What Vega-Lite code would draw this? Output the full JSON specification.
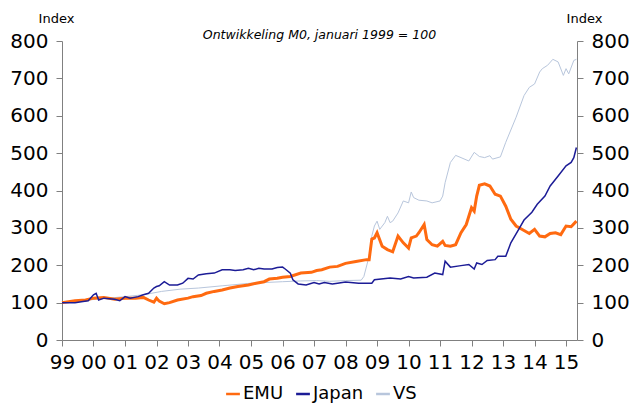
{
"$schema":"https://vega.github.io/schema/vega-lite/v6.json",
"width":515,"height":299,"autosize":"none",
"padding":{"left":62,"top":41,"right":55,"bottom":63},
"config":{"view":{"stroke":null},"font":"DejaVu Sans"},
"title":{"text":"Ontwikkeling M0, januari 1999 = 100","fontStyle":"italic","fontWeight":"normal","fontSize":12.5,"color":"#000000","anchor":"middle","offset":-29},
"datasets":{"emu":[
{"s":"EMU","d":"1999-01-01","v":100},{"s":"EMU","d":"1999-06-01","v":105},{"s":"EMU","d":"1999-10-01","v":107},{"s":"EMU","d":"2000-01-01","v":112},{"s":"EMU","d":"2000-05-01","v":114},{"s":"EMU","d":"2000-09-01","v":109},{"s":"EMU","d":"2001-01-01","v":112},{"s":"EMU","d":"2001-05-01","v":112},{"s":"EMU","d":"2001-08-01","v":114},{"s":"EMU","d":"2001-10-01","v":107},{"s":"EMU","d":"2001-12-01","v":101},{"s":"EMU","d":"2002-01-01","v":112},{"s":"EMU","d":"2002-02-01","v":104},{"s":"EMU","d":"2002-04-01","v":97},{"s":"EMU","d":"2002-06-01","v":100},{"s":"EMU","d":"2002-09-01","v":107},{"s":"EMU","d":"2003-01-01","v":112},{"s":"EMU","d":"2003-03-01","v":116},{"s":"EMU","d":"2003-06-01","v":119},{"s":"EMU","d":"2003-08-01","v":125},{"s":"EMU","d":"2003-11-01","v":130},{"s":"EMU","d":"2004-02-01","v":134},{"s":"EMU","d":"2004-05-01","v":139},{"s":"EMU","d":"2004-08-01","v":143},{"s":"EMU","d":"2004-12-01","v":147},{"s":"EMU","d":"2005-03-01","v":152},{"s":"EMU","d":"2005-06-01","v":156},{"s":"EMU","d":"2005-08-01","v":163},{"s":"EMU","d":"2005-11-01","v":165},{"s":"EMU","d":"2006-01-01","v":168},{"s":"EMU","d":"2006-04-01","v":170},{"s":"EMU","d":"2006-08-01","v":179},{"s":"EMU","d":"2006-12-01","v":181},{"s":"EMU","d":"2007-02-01","v":186},{"s":"EMU","d":"2007-04-01","v":188},{"s":"EMU","d":"2007-07-01","v":195},{"s":"EMU","d":"2007-10-01","v":197},{"s":"EMU","d":"2008-01-01","v":205},{"s":"EMU","d":"2008-05-01","v":210},{"s":"EMU","d":"2008-09-01","v":215},{"s":"EMU","d":"2008-10-01","v":215},{"s":"EMU","d":"2008-11-01","v":270},{"s":"EMU","d":"2008-12-01","v":273},{"s":"EMU","d":"2009-01-01","v":287},{"s":"EMU","d":"2009-03-01","v":251},{"s":"EMU","d":"2009-05-01","v":242},{"s":"EMU","d":"2009-07-01","v":236},{"s":"EMU","d":"2009-09-01","v":278},{"s":"EMU","d":"2009-11-01","v":260},{"s":"EMU","d":"2010-01-01","v":246},{"s":"EMU","d":"2010-02-01","v":273},{"s":"EMU","d":"2010-04-01","v":278},{"s":"EMU","d":"2010-05-01","v":287},{"s":"EMU","d":"2010-07-01","v":309},{"s":"EMU","d":"2010-08-01","v":269},{"s":"EMU","d":"2010-10-01","v":255},{"s":"EMU","d":"2010-12-01","v":251},{"s":"EMU","d":"2011-02-01","v":264},{"s":"EMU","d":"2011-03-01","v":253},{"s":"EMU","d":"2011-05-01","v":251},{"s":"EMU","d":"2011-07-01","v":255},{"s":"EMU","d":"2011-09-01","v":287},{"s":"EMU","d":"2011-11-01","v":309},{"s":"EMU","d":"2012-01-01","v":354},{"s":"EMU","d":"2012-02-01","v":345},{"s":"EMU","d":"2012-03-01","v":385},{"s":"EMU","d":"2012-04-01","v":414},{"s":"EMU","d":"2012-06-01","v":418},{"s":"EMU","d":"2012-08-01","v":412},{"s":"EMU","d":"2012-10-01","v":390},{"s":"EMU","d":"2012-12-01","v":385},{"s":"EMU","d":"2013-02-01","v":358},{"s":"EMU","d":"2013-04-01","v":323},{"s":"EMU","d":"2013-06-01","v":305},{"s":"EMU","d":"2013-08-01","v":297},{"s":"EMU","d":"2013-11-01","v":285},{"s":"EMU","d":"2014-01-01","v":296},{"s":"EMU","d":"2014-03-01","v":278},{"s":"EMU","d":"2014-05-01","v":276},{"s":"EMU","d":"2014-07-01","v":285},{"s":"EMU","d":"2014-09-01","v":287},{"s":"EMU","d":"2014-11-01","v":282},{"s":"EMU","d":"2015-01-01","v":305},{"s":"EMU","d":"2015-03-01","v":303},{"s":"EMU","d":"2015-05-01","v":318}],
"japan":[
{"s":"Japan","d":"1999-01-01","v":100},{"s":"Japan","d":"1999-06-01","v":100},{"s":"Japan","d":"1999-09-01","v":103},{"s":"Japan","d":"1999-11-01","v":105},{"s":"Japan","d":"2000-01-01","v":121},{"s":"Japan","d":"2000-02-01","v":125},{"s":"Japan","d":"2000-03-01","v":107},{"s":"Japan","d":"2000-05-01","v":112},{"s":"Japan","d":"2000-09-01","v":109},{"s":"Japan","d":"2000-11-01","v":105},{"s":"Japan","d":"2001-01-01","v":116},{"s":"Japan","d":"2001-03-01","v":112},{"s":"Japan","d":"2001-06-01","v":116},{"s":"Japan","d":"2001-08-01","v":121},{"s":"Japan","d":"2001-10-01","v":125},{"s":"Japan","d":"2001-12-01","v":139},{"s":"Japan","d":"2002-01-01","v":143},{"s":"Japan","d":"2002-02-01","v":145},{"s":"Japan","d":"2002-04-01","v":156},{"s":"Japan","d":"2002-06-01","v":147},{"s":"Japan","d":"2002-09-01","v":147},{"s":"Japan","d":"2002-11-01","v":152},{"s":"Japan","d":"2003-01-01","v":165},{"s":"Japan","d":"2003-03-01","v":163},{"s":"Japan","d":"2003-05-01","v":174},{"s":"Japan","d":"2003-08-01","v":177},{"s":"Japan","d":"2003-11-01","v":179},{"s":"Japan","d":"2004-02-01","v":188},{"s":"Japan","d":"2004-05-01","v":188},{"s":"Japan","d":"2004-07-01","v":186},{"s":"Japan","d":"2004-10-01","v":188},{"s":"Japan","d":"2004-12-01","v":192},{"s":"Japan","d":"2005-02-01","v":188},{"s":"Japan","d":"2005-04-01","v":192},{"s":"Japan","d":"2005-06-01","v":190},{"s":"Japan","d":"2005-09-01","v":190},{"s":"Japan","d":"2005-11-01","v":194},{"s":"Japan","d":"2006-01-01","v":195},{"s":"Japan","d":"2006-02-01","v":190},{"s":"Japan","d":"2006-04-01","v":179},{"s":"Japan","d":"2006-05-01","v":161},{"s":"Japan","d":"2006-07-01","v":150},{"s":"Japan","d":"2006-10-01","v":147},{"s":"Japan","d":"2007-01-01","v":154},{"s":"Japan","d":"2007-03-01","v":150},{"s":"Japan","d":"2007-05-01","v":154},{"s":"Japan","d":"2007-08-01","v":150},{"s":"Japan","d":"2007-10-01","v":152},{"s":"Japan","d":"2008-01-01","v":155},{"s":"Japan","d":"2008-06-01","v":152},{"s":"Japan","d":"2008-11-01","v":152},{"s":"Japan","d":"2008-12-01","v":161},{"s":"Japan","d":"2009-06-01","v":166},{"s":"Japan","d":"2009-10-01","v":163},{"s":"Japan","d":"2010-01-01","v":170},{"s":"Japan","d":"2010-03-01","v":166},{"s":"Japan","d":"2010-08-01","v":168},{"s":"Japan","d":"2010-11-01","v":179},{"s":"Japan","d":"2011-02-01","v":175},{"s":"Japan","d":"2011-03-01","v":211},{"s":"Japan","d":"2011-05-01","v":195},{"s":"Japan","d":"2011-09-01","v":199},{"s":"Japan","d":"2011-12-01","v":202},{"s":"Japan","d":"2012-02-01","v":190},{"s":"Japan","d":"2012-03-01","v":206},{"s":"Japan","d":"2012-05-01","v":202},{"s":"Japan","d":"2012-07-01","v":213},{"s":"Japan","d":"2012-10-01","v":215},{"s":"Japan","d":"2012-11-01","v":224},{"s":"Japan","d":"2013-02-01","v":224},{"s":"Japan","d":"2013-04-01","v":260},{"s":"Japan","d":"2013-07-01","v":296},{"s":"Japan","d":"2013-09-01","v":321},{"s":"Japan","d":"2013-12-01","v":342},{"s":"Japan","d":"2014-02-01","v":363},{"s":"Japan","d":"2014-05-01","v":385},{"s":"Japan","d":"2014-07-01","v":412},{"s":"Japan","d":"2014-10-01","v":439},{"s":"Japan","d":"2015-01-01","v":466},{"s":"Japan","d":"2015-03-01","v":475},{"s":"Japan","d":"2015-04-01","v":488},{"s":"Japan","d":"2015-05-01","v":515}],
"vs":[
{"s":"VS","d":"1999-01-01","v":100},{"s":"VS","d":"1999-08-01","v":105},{"s":"VS","d":"2000-02-01","v":109},{"s":"VS","d":"2001-01-01","v":116},{"s":"VS","d":"2001-08-01","v":121},{"s":"VS","d":"2002-03-01","v":130},{"s":"VS","d":"2002-10-01","v":136},{"s":"VS","d":"2003-05-01","v":139},{"s":"VS","d":"2004-02-01","v":145},{"s":"VS","d":"2005-01-01","v":152},{"s":"VS","d":"2006-01-01","v":156},{"s":"VS","d":"2006-08-01","v":158},{"s":"VS","d":"2007-02-01","v":159},{"s":"VS","d":"2007-07-01","v":157},{"s":"VS","d":"2008-01-01","v":159},{"s":"VS","d":"2008-07-01","v":160},{"s":"VS","d":"2008-08-01","v":170},{"s":"VS","d":"2008-10-01","v":224},{"s":"VS","d":"2008-11-01","v":278},{"s":"VS","d":"2008-12-01","v":305},{"s":"VS","d":"2009-01-01","v":318},{"s":"VS","d":"2009-02-01","v":296},{"s":"VS","d":"2009-04-01","v":314},{"s":"VS","d":"2009-05-01","v":331},{"s":"VS","d":"2009-06-01","v":314},{"s":"VS","d":"2009-07-01","v":318},{"s":"VS","d":"2009-09-01","v":340},{"s":"VS","d":"2009-11-01","v":372},{"s":"VS","d":"2010-01-01","v":367},{"s":"VS","d":"2010-02-01","v":396},{"s":"VS","d":"2010-03-01","v":381},{"s":"VS","d":"2010-05-01","v":374},{"s":"VS","d":"2010-08-01","v":372},{"s":"VS","d":"2010-10-01","v":367},{"s":"VS","d":"2011-01-01","v":372},{"s":"VS","d":"2011-02-01","v":385},{"s":"VS","d":"2011-03-01","v":421},{"s":"VS","d":"2011-05-01","v":475},{"s":"VS","d":"2011-07-01","v":494},{"s":"VS","d":"2011-09-01","v":488},{"s":"VS","d":"2011-12-01","v":479},{"s":"VS","d":"2012-02-01","v":502},{"s":"VS","d":"2012-04-01","v":491},{"s":"VS","d":"2012-06-01","v":488},{"s":"VS","d":"2012-08-01","v":493},{"s":"VS","d":"2012-09-01","v":484},{"s":"VS","d":"2012-12-01","v":490},{"s":"VS","d":"2013-02-01","v":529},{"s":"VS","d":"2013-06-01","v":596},{"s":"VS","d":"2013-09-01","v":654},{"s":"VS","d":"2013-11-01","v":676},{"s":"VS","d":"2014-01-01","v":685},{"s":"VS","d":"2014-03-01","v":717},{"s":"VS","d":"2014-04-01","v":726},{"s":"VS","d":"2014-06-01","v":735},{"s":"VS","d":"2014-08-01","v":751},{"s":"VS","d":"2014-10-01","v":744},{"s":"VS","d":"2014-12-01","v":708},{"s":"VS","d":"2015-01-01","v":726},{"s":"VS","d":"2015-02-01","v":712},{"s":"VS","d":"2015-04-01","v":748},{"s":"VS","d":"2015-05-01","v":751}]},
"encoding":{
 "x":{"field":"d","type":"temporal","scale":{"type":"utc","domain":[{"year":1999,"month":1,"date":1,"utc":true},{"year":2015,"month":5,"date":8,"utc":true}]},
  "axis":{"title":null,"format":"%y","tickCount":{"interval":"year","step":1},"labelOverlap":false,"labelFontSize":20,"labelColor":"#000","labelPadding":6,"grid":false,"domainColor":"#808080","tickColor":"#808080","tickSize":6,"labelFlush":false}},
 "color":{"field":"s","type":"nominal","scale":{"domain":["EMU","Japan","VS"],"range":["#FF6A10","#1C1C96","#B8C6DC"]},
  "legend":{"title":null,"orient":"none","legendX":162,"legendY":344,"direction":"horizontal","symbolType":"stroke","symbolStrokeWidth":2.5,"symbolSize":190,"labelFontSize":18,"labelColor":"#000","columnPadding":7,"labelOffset":1}}
},
"layer":[
 {"data":{"name":"vs"},"mark":{"type":"line","strokeWidth":1},
  "encoding":{"y":{"field":"v","type":"quantitative","scale":{"domain":[0,800]},"axis":{"orient":"right","title":"Index","titleAngle":0,"titleAlign":"center","titleBaseline":"alphabetic","titleX":7,"titleY":-19,"titleFontSize":13,"titleFontWeight":"normal","titleColor":"#000","values":[0,100,200,300,400,500,600,700,800],"labelFontSize":20,"labelColor":"#000","labelPadding":8,"grid":false,"domainColor":"#808080","tickColor":"#808080","tickSize":6}}}},
 {"data":{"name":"emu"},"mark":{"type":"line","strokeWidth":3},
  "encoding":{"y":{"field":"v","type":"quantitative","scale":{"domain":[0,800]},"axis":{"orient":"left","title":"Index","titleAngle":0,"titleAlign":"center","titleBaseline":"alphabetic","titleX":-6,"titleY":-19,"titleFontSize":13,"titleFontWeight":"normal","titleColor":"#000","values":[0,100,200,300,400,500,600,700,800],"labelFontSize":20,"labelColor":"#000","labelPadding":8,"grid":false,"domainColor":"#808080","tickColor":"#808080","tickSize":6}}}},
 {"data":{"name":"japan"},"mark":{"type":"line","strokeWidth":1.5},
  "encoding":{"y":{"field":"v","type":"quantitative","scale":{"domain":[0,800]},"axis":null}}}
],
"resolve":{"scale":{"y":"independent"}}
}
